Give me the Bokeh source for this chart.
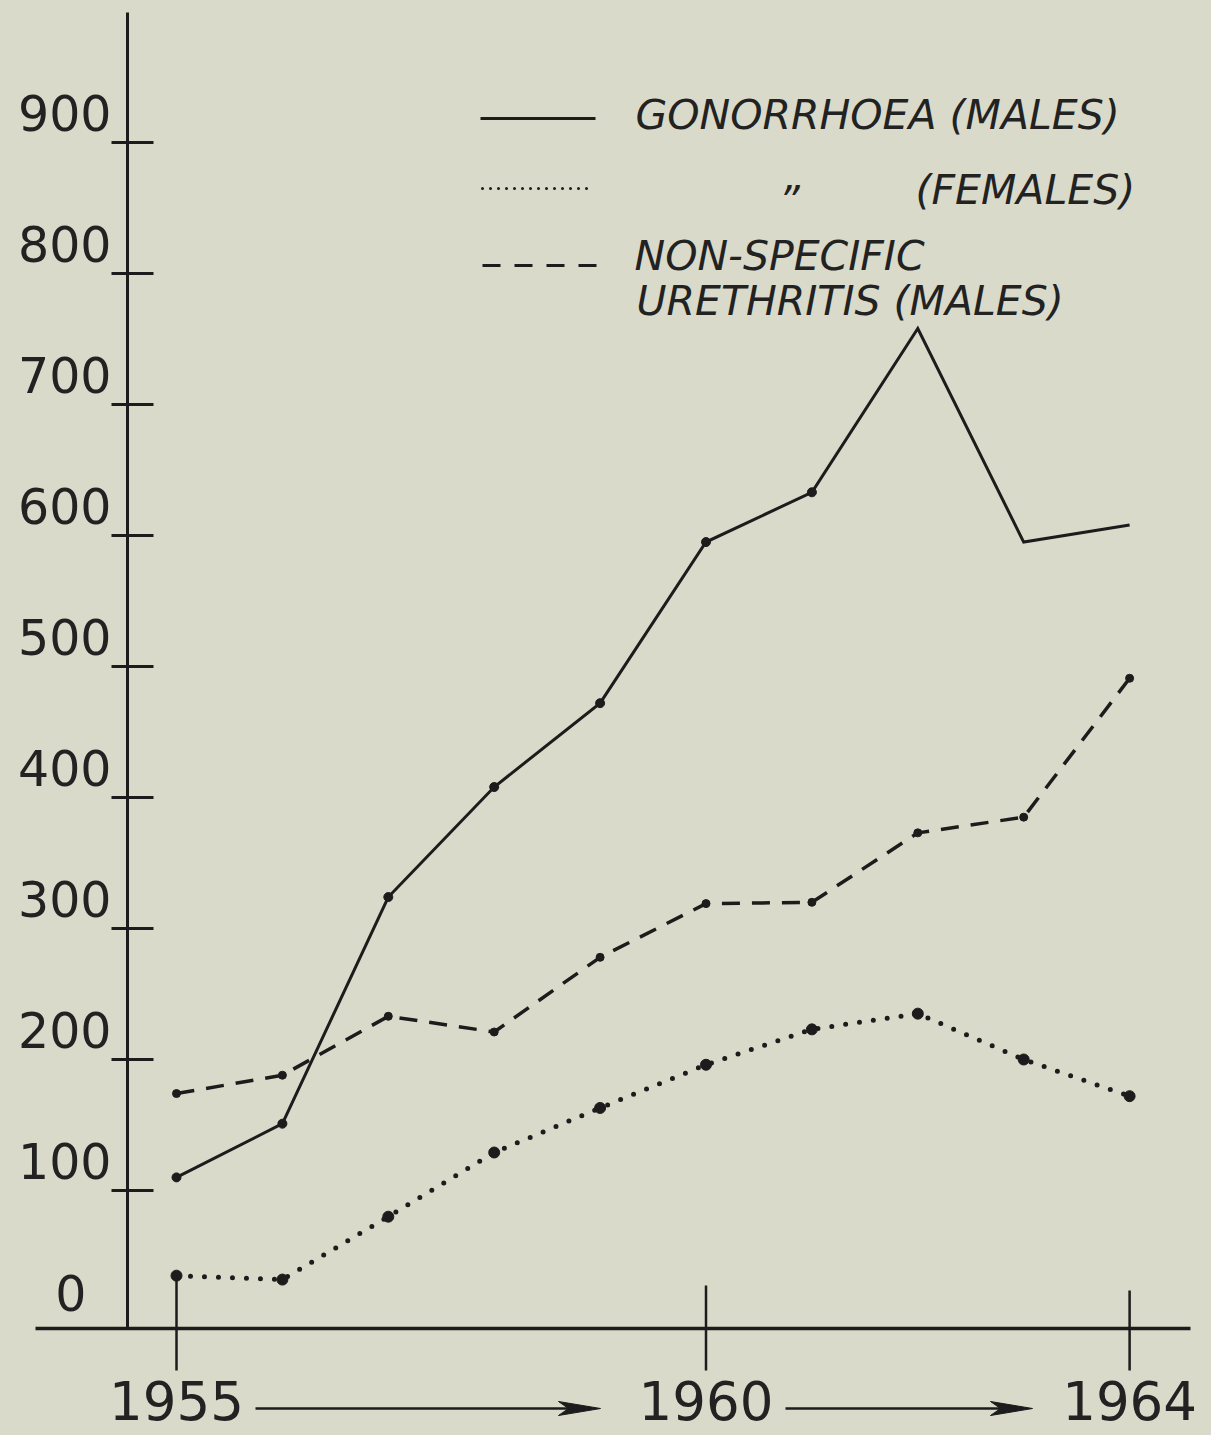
from bokeh.plotting import figure
from bokeh.core.properties import value
from bokeh.embed import file_html
from bokeh.resources import INLINE

# ---------------- data ----------------
years = [1955, 1956, 1957, 1958, 1959, 1960, 1961, 1962, 1963, 1964]
gonorrhoea_males = [110, 151, 324, 408, 472, 595, 633, 758, 595, 608]
gonorrhoea_females = [35, 32, 80, 129, 163, 196, 223, 235, 200, 172]
nsu_males = [174, 188, 233, 221, 278, 319, 320, 373, 385, 491]
y_ticks = [100, 200, 300, 400, 500, 600, 700, 800, 900]
y_tick_labels = ["100", "200", "300", "400", "500", "600", "700", "800", "900"]
zero_label = "0"
x_tick_years = [1955, 1960, 1964]
x_tick_labels = ["1955", "1960", "1964"]
legend_gon_m = "GONORRHOEA (MALES)"
legend_ditto = "\u201d"
legend_gon_f = "(FEMALES)"
legend_nsu_1 = "NON-SPECIFIC"
legend_nsu_2 = "URETHRITIS (MALES)"

# ---------------- geometry / style (pixels) ----------------
W, H = 1211, 1435
X0_PX = 176.0      # x of 1955
YEAR_PX = 105.9    # px per year
Y0_PX = 1321.0     # y of value 0
VAL_PX = 1.31      # px per unit of value
BG = "#d9dac9"
INK = "#1c1c1c"
TXT = "#222222"
NUM_FONT = value("DejaVu Sans")
BASE_SHIFT = 0.45  # baseline correction (fraction of font size)


def xd(px):
    return 1955 + (px - X0_PX) / YEAR_PX


def yd(py):
    return (Y0_PX - py) / VAL_PX


def dx(px):
    return px / YEAR_PX


def dy(py):
    return py / VAL_PX


def off(fs):
    return -round(BASE_SHIFT * fs)


p = figure(width=W, height=H, x_range=(xd(0), xd(W)), y_range=(yd(H), yd(0)),
           output_backend="svg", toolbar_location=None, min_border=0,
           x_axis_location=None, y_axis_location=None,
           background_fill_color=BG, border_fill_color=BG, outline_line_color=None)
p.grid.visible = False

# ---------------- axes drawn by hand ----------------
AX_X = xd(127)
AX_Y = yd(1328)
p.segment(x0=[AX_X], y0=[yd(12)], x1=[AX_X], y1=[AX_Y], line_color=INK, line_width=3)
p.segment(x0=[xd(35)], y0=[AX_Y], x1=[xd(1190)], y1=[AX_Y], line_color=INK, line_width=3.5)

# y ticks (crossing the axis) and labels above-left of them
p.segment(x0=[AX_X - dx(16)] * len(y_ticks), y0=y_ticks,
          x1=[AX_X + dx(26)] * len(y_ticks), y1=y_ticks, line_color=INK, line_width=3)
FS_Y = 49
p.text(x=[AX_X - dx(16)] * len(y_ticks), y=y_ticks, text=y_tick_labels,
       text_font=NUM_FONT, text_font_size="%dpx" % FS_Y, text_color=TXT,
       text_align="right", text_baseline="alphabetic", y_offset=off(FS_Y) - 8)
p.text(x=[xd(86)], y=[yd(1314)], text=[zero_label], text_font=NUM_FONT,
       text_font_size="%dpx" % FS_Y, text_color=TXT, text_align="right",
       text_baseline="alphabetic", y_offset=off(FS_Y))

# x ticks crossing the x-axis
tick_tops = [AX_Y + dy(53), AX_Y + dy(43), AX_Y + dy(38)]
p.segment(x0=x_tick_years, y0=tick_tops, x1=x_tick_years,
          y1=[AX_Y - dy(42)] * len(x_tick_years), line_color=INK, line_width=2.5)
FS_X = 53
p.text(x=x_tick_years, y=[yd(1424)] * len(x_tick_years), text=x_tick_labels,
       text_font=NUM_FONT, text_font_size="%dpx" % FS_X, text_color=TXT,
       text_align="center", text_baseline="alphabetic", y_offset=off(FS_X))

# arrows between year labels: shafts + dart heads
ARW_Y = 1408
arrow_spans = [(255, 600), (785, 1032)]
p.segment(x0=[xd(a) for a, b in arrow_spans], y0=[yd(ARW_Y)] * 2,
          x1=[xd(b - 10) for a, b in arrow_spans], y1=[yd(ARW_Y)] * 2,
          line_color=INK, line_width=2.5)
p.patches(xs=[[xd(b), xd(b - 42), xd(b - 32), xd(b - 42)] for a, b in arrow_spans],
          ys=[[yd(ARW_Y), yd(ARW_Y - 7), yd(ARW_Y), yd(ARW_Y + 7)]] * 2,
          fill_color=INK, line_color=INK, line_width=1)

# ---------------- series ----------------
p.line(years, gonorrhoea_males, line_color=INK, line_width=3, line_join="miter")
p.scatter(years[:7], gonorrhoea_males[:7], size=9, color=INK)

p.line(years, nsu_males, line_color=INK, line_width=3.5, line_dash="18 12")
p.scatter(years, nsu_males, size=8, color=INK)

p.line(years, gonorrhoea_females, line_color=INK, line_width=5, line_dash="0 14",
       line_cap="round")
p.scatter(years, gonorrhoea_females, size=11, color=INK)

# ---------------- legend ----------------
p.line([xd(480), xd(595)], [yd(118), yd(118)], line_color=INK, line_width=3)
p.line([xd(482), xd(590)], [yd(188), yd(188)], line_color=INK, line_width=3,
       line_dash="0 8", line_cap="round")
p.line([xd(482), xd(598)], [yd(265), yd(265)], line_color=INK, line_width=3,
       line_dash="18 14")

LEG_FONT = value("DejaVu Sans")
FS_L = 41
leg_x = [xd(635), xd(915), xd(634), xd(636)]
leg_y = [yd(132), yd(207), yd(273), yd(318)]
leg_t = [legend_gon_m, legend_gon_f, legend_nsu_1, legend_nsu_2]
p.text(x=leg_x, y=leg_y, text=leg_t, text_font=LEG_FONT, text_font_size="%dpx" % FS_L,
       text_font_style="italic", text_color=TXT, text_align="left",
       text_baseline="alphabetic", y_offset=off(FS_L))
p.text(x=[xd(778)], y=[yd(218)], text=[legend_ditto], text_font=LEG_FONT,
       text_font_size="%dpx" % FS_L, text_font_style="italic", text_color=TXT,
       text_align="left", text_baseline="alphabetic", y_offset=off(FS_L))

html = file_html(p, INLINE, title="Gonorrhoea and NSU 1955-1964")
html = html.replace("<head>", "<head><style>html,body{background:%s;}</style>" % BG, 1)
open("out.html", "w").write(html)
